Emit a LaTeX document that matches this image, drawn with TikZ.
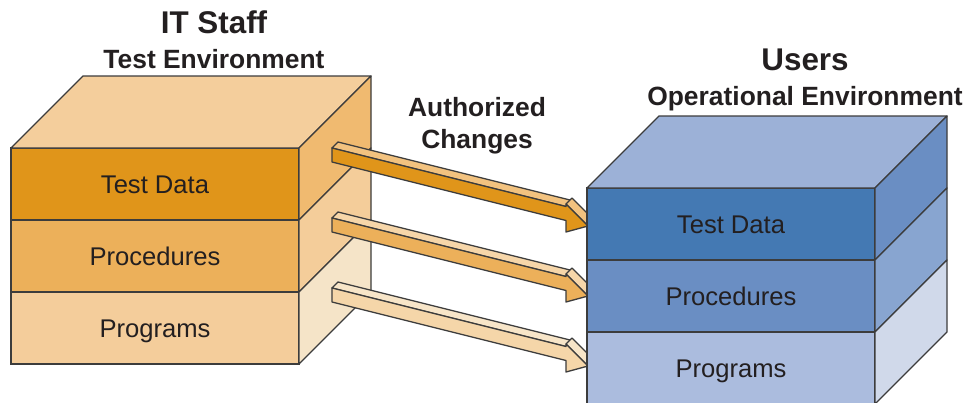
\documentclass[tikz,border=0pt]{standalone}
\usepackage{fontspec}
\setmainfont{Liberation Sans}
\usetikzlibrary{positioning}
\definecolor{edgegray}{HTML}{3C3C3C}
\definecolor{textgray}{HTML}{231F20}
\definecolor{itTop}{HTML}{F4CE9C}
\definecolor{itDark}{HTML}{E0951A}
\definecolor{itMid}{HTML}{ECB05A}
\definecolor{itLight}{HTML}{F4CD9B}
\definecolor{itSideA}{HTML}{F0BA70}
\definecolor{itSideB}{HTML}{F4CD9A}
\definecolor{itSideC}{HTML}{F5E4C8}
\definecolor{opTop}{HTML}{9CB1D7}
\definecolor{opDark}{HTML}{4479B3}
\definecolor{opMid}{HTML}{6A8EC3}
\definecolor{opLight}{HTML}{ABBCDE}
\definecolor{opSideA}{HTML}{6A8EC3}
\definecolor{opSideB}{HTML}{88A5D0}
\definecolor{opSideC}{HTML}{D0D9EA}
\definecolor{chgTopA}{HTML}{F2C27F}
\definecolor{chgTopB}{HTML}{F6D6A9}
\definecolor{chgTopC}{HTML}{F7E5C8}
\definecolor{chgFrontC}{HTML}{F5D6A9}

\tikzset{
  layer/.style={draw=edgegray, line width=0.65pt, minimum width=144pt,
                minimum height=36pt, inner sep=0pt, outer sep=0pt, text=textgray,
                font=\fontsize{12.8}{14}\selectfont, text height=9.2pt, text depth=0pt},
  face/.style={draw=edgegray, line width=0.65pt, line join=round},
  title/.style={font=\fontsize{15.7}{18}\selectfont\bfseries, text=textgray, anchor=base},
  subtitle/.style={font=\fontsize{13.2}{15}\selectfont\bfseries, text=textgray, anchor=base},
}

% flat 3D arrow: start point, front colour, top colour
\newcommand{\chgarrow}[3]{%
  \begin{scope}[shift={(#1)}, yslant=-0.25]
    \draw[face, fill=#3] (0,0) -- (6,-7.5) -- (240,-7.5) -- (234,0) -- cycle;
    \draw[face, fill=#3] (234,-2.5) -- (240,-10) -- (262,6.5) -- (256,14) -- cycle;
    \draw[face, fill=#2] (0,0) -- (234,0) -- (234,-2.5) -- (256,14)
      -- (234,25.5) -- (234,14) -- (0,14) -- cycle;
  \end{scope}}

\begin{document}
\begin{tikzpicture}[x=0.5pt, y=-0.5pt]
  \clip (0,0) rectangle (967,402);

  % titles
  \node[title] (itstaff) at (214,33) {IT Staff};
  \node[subtitle] (testenv) at (214,68) {Test Environment};
  \node[subtitle] (authz) at (477,116.7) {Authorized};
  \node[subtitle] (changes) at (477,148.3) {Changes};
  \node[title] (users) at (805,70) {Users};
  \node[subtitle] (openv) at (805,105) {Operational Environment};

  % IT staff cube
  \node[layer, fill=itDark] (ltd) at (155,184) {Test Data};
  \node[layer, fill=itMid, below=0pt of ltd] (lproc) {Procedures};
  \node[layer, fill=itLight, below=0pt of lproc] (lprog) {Programs};
  \draw[face, fill=itTop] (ltd.north west) -- ++(72,-72) -- ++(288,0) -- (ltd.north east) -- cycle;
  \draw[face, fill=itSideA] (ltd.north east) -- ++(72,-72) -- ++(0,72) -- (ltd.south east) -- cycle;
  \draw[face, fill=itSideB] (lproc.north east) -- ++(72,-72) -- ++(0,72) -- (lproc.south east) -- cycle;
  \draw[face, fill=itSideC] (lprog.north east) -- ++(72,-72) -- ++(0,72) -- (lprog.south east) -- cycle;

  % authorized changes
  \coordinate (a1) at (332,148);
  \coordinate (a2) at (332,218);
  \coordinate (a3) at (332,288);
  \chgarrow{a1}{itDark}{chgTopA}
  \chgarrow{a2}{itMid}{chgTopB}
  \chgarrow{a3}{chgFrontC}{chgTopC}

  % users cube
  \node[layer, fill=opDark] (rtd) at (731,224) {Test Data};
  \node[layer, fill=opMid, below=0pt of rtd] (rproc) {Procedures};
  \node[layer, fill=opLight, below=0pt of rproc] (rprog) {Programs};
  \draw[face, fill=opTop] (rtd.north west) -- ++(72,-72) -- ++(288,0) -- (rtd.north east) -- cycle;
  \draw[face, fill=opSideA] (rtd.north east) -- ++(72,-72) -- ++(0,72) -- (rtd.south east) -- cycle;
  \draw[face, fill=opSideB] (rproc.north east) -- ++(72,-72) -- ++(0,72) -- (rproc.south east) -- cycle;
  \draw[face, fill=opSideC] (rprog.north east) -- ++(72,-72) -- ++(0,72) -- (rprog.south east) -- cycle;
\end{tikzpicture}
\end{document}
